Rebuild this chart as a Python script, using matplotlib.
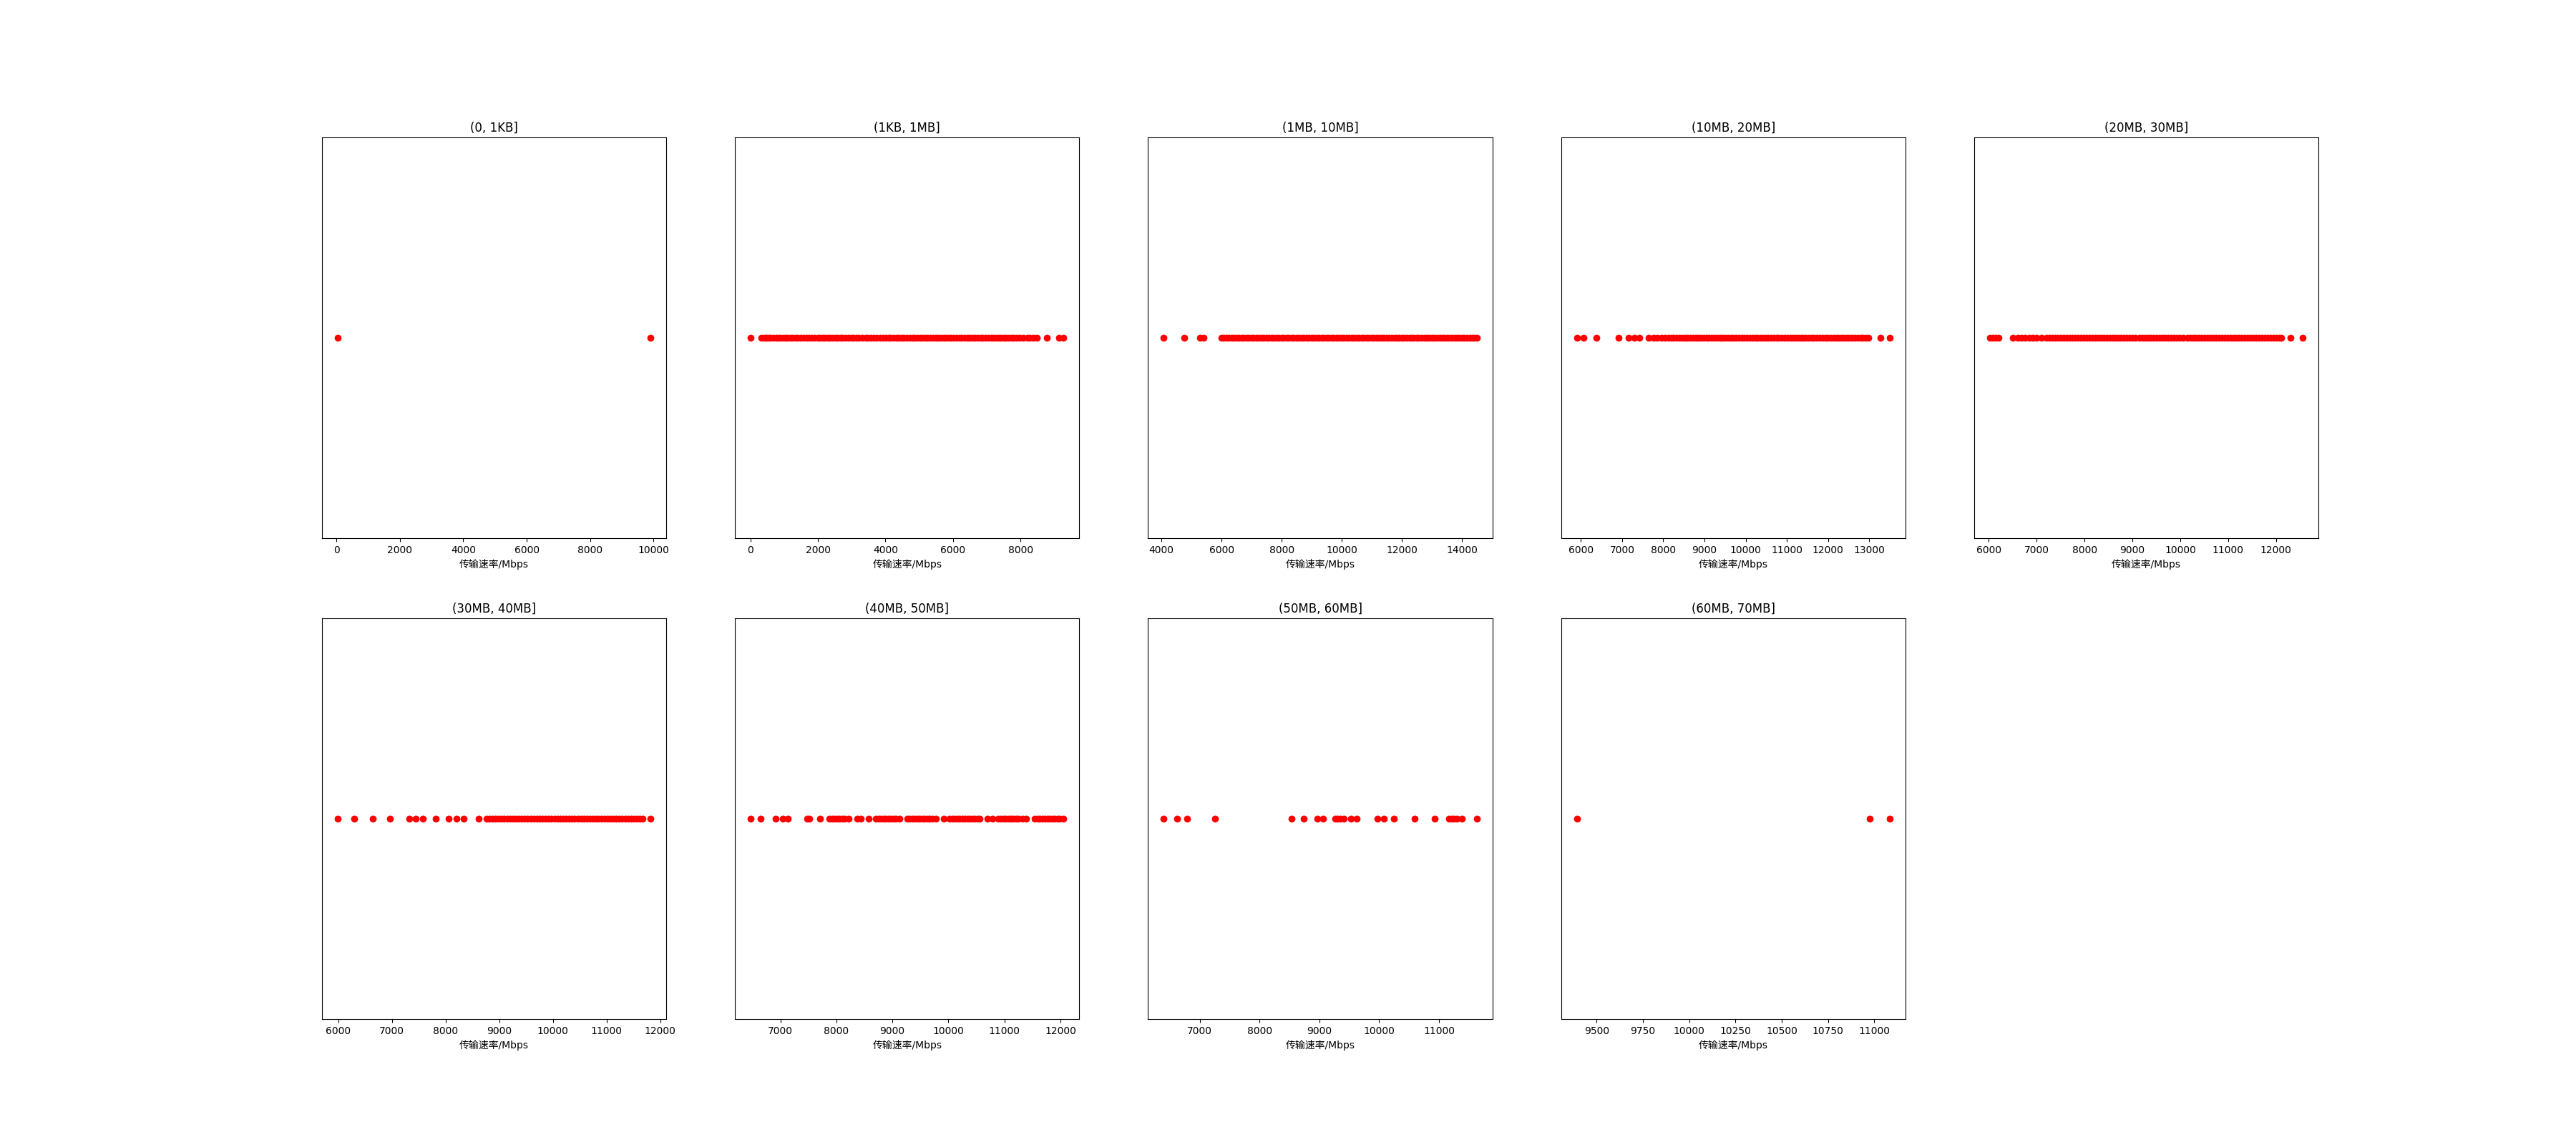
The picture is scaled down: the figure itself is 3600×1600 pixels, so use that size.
import matplotlib
matplotlib.use("Agg")
import matplotlib.pyplot as plt

titles = ["(0, 1KB]", "(1KB, 1MB]", "(1MB, 10MB]", "(10MB, 20MB]", "(20MB, 30MB]",
          "(30MB, 40MB]", "(40MB, 50MB]", "(50MB, 60MB]", "(60MB, 70MB]"]

xlabel = "传输速率/Mbps"

p1 = [38, 9903]

p2 = [10, 331, 400, 470, 545, 610, 690, 760, 830, 905, 975, 1050, 1120, 1190, 1265, 1340,
      1411, 1500, 1580, 1650, 1720, 1800, 1895, 1990, 2060, 2140, 2210, 2290, 2370, 2440,
      2520, 2600, 2680, 2750, 2830, 2910, 2990, 3060, 3140, 3210, 3313, 3420, 3490, 3570,
      3650, 3730, 3834, 3930, 4010, 4090, 4160, 4240, 4320, 4400, 4470, 4550, 4630, 4710,
      4790, 4860, 4940, 5020, 5100, 5180, 5250, 5330, 5410, 5490, 5560, 5640, 5720, 5800,
      5870, 5950, 6030, 6110, 6190, 6260, 6340, 6420, 6500, 6570, 6650, 6730, 6810, 6880,
      6960, 7040, 7120, 7190, 7270, 7350, 7430, 7500, 7580, 7660, 7740, 7810, 7890, 7970,
      8083, 8200, 8280, 8370, 8475, 8775, 9148, 9276]

p3 = [4074, 4750, 5270, 5410, 5994, 6070, 6150, 6240, 6320, 6400, 6490, 6570, 6650, 6740,
      6820, 6900, 6990, 7070, 7150, 7240, 7320, 7400, 7490, 7570, 7650, 7740, 7820, 7900,
      7990, 8070, 8150, 8240, 8320, 8400, 8490, 8570, 8650, 8740, 8820, 8900, 8990, 9070,
      9150, 9240, 9320, 9400, 9490, 9570, 9650, 9740, 9820, 9900, 9990, 10070, 10150, 10240,
      10320, 10400, 10490, 10570, 10650, 10740, 10820, 10900, 10990, 11070, 11150, 11240,
      11320, 11400, 11490, 11570, 11650, 11740, 11820, 11900, 11990, 12070, 12150, 12240,
      12320, 12400, 12490, 12570, 12650, 12740, 12820, 12900, 12990, 13070, 13150, 13240,
      13320, 13400, 13490, 13570, 13650, 13740, 13820, 13900, 13990, 14070, 14150, 14240,
      14320, 14400, 14480]

p4 = [5900, 6059, 6383, 6914, 7157, 7294, 7415, 7647, 7768, 7856, 7950, 8043, 8135,
      8196, 8262, 8327, 8393, 8458, 8524, 8589, 8655, 8720, 8786, 8851, 8917, 8982, 9048,
      9113, 9179, 9244, 9310, 9375, 9441, 9506, 9572, 9637, 9703, 9768, 9834, 9899, 9965,
      10030, 10096, 10161, 10227, 10292, 10358, 10423, 10489, 10554, 10620, 10685, 10751,
      10816, 10882, 10947, 11013, 11078, 11144, 11209, 11275, 11340, 11406, 11471, 11537,
      11602, 11668, 11733, 11799, 11864, 11930, 11995, 12061, 12126, 12192, 12257, 12323,
      12388, 12454, 12519, 12585, 12650, 12716, 12781, 12847, 12912, 12986, 13278, 13500]

p5 = [6020, 6080, 6140, 6200, 6494, 6600, 6680, 6760, 6840, 6920, 6990, 7095, 7200, 7260,
      7320, 7380, 7440, 7500, 7560, 7620, 7680, 7740, 7800, 7860, 7920, 7980, 8040, 8100,
      8160, 8220, 8280, 8340, 8400, 8460, 8520, 8580, 8640, 8700, 8760, 8820, 8880, 8940,
      9000, 9060, 9150, 9210, 9270, 9330, 9390, 9450, 9510, 9570, 9630, 9690, 9750, 9810,
      9870, 9930, 9990, 10060, 10150, 10210, 10270, 10330, 10390, 10450, 10510, 10570,
      10630, 10690, 10750, 10810, 10870, 10930, 10990, 11050, 11110, 11170, 11230, 11290,
      11350, 11410, 11470, 11530, 11590, 11650, 11710, 11770, 11830, 11890, 11950, 12010,
      12060, 12110, 12300, 12560]

p6 = [5988, 6294, 6637, 6965, 7327, 7445, 7576, 7812, 8056, 8197, 8339, 8620, 8761, 8815,
      8870, 8925, 8980, 9035, 9090, 9145, 9200, 9255, 9310, 9365, 9420, 9475, 9530, 9585,
      9640, 9695, 9750, 9805, 9860, 9915, 9970, 10025, 10080, 10135, 10190, 10245, 10300,
      10355, 10410, 10465, 10520, 10575, 10630, 10685, 10740, 10795, 10850, 10905, 10960,
      11015, 11070, 11125, 11180, 11235, 11290, 11345, 11400, 11455, 11510, 11565, 11620,
      11676, 11820]

p7 = [6471, 6650, 6918, 7043, 7132, 7476, 7522, 7714, 7879, 7925, 7968, 8012, 8057, 8100,
      8146, 8214, 8371, 8437, 8572, 8706, 8750, 8795, 8840, 8884, 8930, 8973, 9018, 9062,
      9130, 9264, 9310, 9353, 9398, 9443, 9488, 9533, 9578, 9622, 9666, 9711, 9779, 9913,
      10024, 10068, 10113, 10158, 10202, 10247, 10292, 10336, 10381, 10426, 10470, 10515,
      10560, 10694, 10783, 10894, 10940, 10985, 11030, 11074, 11118, 11163, 11208, 11252,
      11320, 11386, 11543, 11588, 11632, 11676, 11721, 11766, 11811, 11855, 11900, 11945,
      11990, 12056]

p8 = [6397, 6615, 6783, 7255, 8532, 8741, 8971, 9055, 9265, 9305, 9348, 9411, 9528, 9629,
      9976, 10081, 10248, 10595, 10926, 11170, 11210, 11253, 11300, 11378, 11629]

p9 = [9393, 10976, 11083]

series = [p1, p2, p3, p4, p5, p6, p7, p8, p9]

fig, axes = plt.subplots(2, 5, figsize=(36, 16), dpi=100)
flat = axes.flatten()
for ax, title, vals in zip(flat, titles, series):
    ax.plot(vals, [0] * len(vals), 'ro')
    ax.set_title(title)
    ax.set_xlabel(xlabel, family=['DejaVu Sans', 'Noto Sans CJK SC'])
    ax.set_yticks([])
flat[-1].axis('off')

fig.savefig("out.png", dpi=100)
